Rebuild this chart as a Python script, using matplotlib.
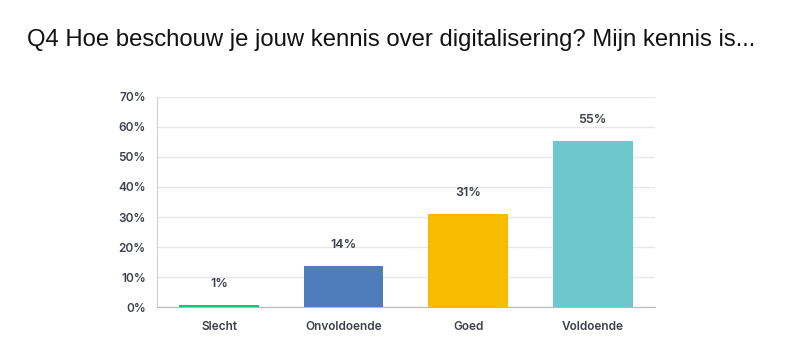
import matplotlib.pyplot as plt

categories = ['Slecht', 'Onvoldoende', 'Goed', 'Voldoende']
values = [0.007, 0.136, 0.309, 0.552]
labels = ['1%', '14%', '31%', '55%']
colors = ['#1fbf75', '#4f7cba', '#f8bd00', '#6cc8cc']
yticks = [0, 0.1, 0.2, 0.3, 0.4, 0.5, 0.6, 0.7]
ytick_labels = ['0%', '10%', '20%', '30%', '40%', '50%', '60%', '70%']

fig = plt.figure(figsize=(7.92, 3.45), dpi=100)
ax = fig.add_axes([0.198, 0.110, 0.629, 0.609])

x = range(len(categories))
ax.bar(x, values, width=0.64, color=colors, zorder=3)
for i, (v, lab) in enumerate(zip(values, labels)):
    ax.annotate(lab, (i, v), xytext=(0, 11), textcoords='offset points',
                ha='center', va='bottom', fontsize=9, fontweight='semibold',
                family='Inter', color='#3d414c')

ax.set_xlim(-0.5, 3.5)
ax.set_ylim(0, 0.7)
ax.set_yticks(yticks)
ax.set_yticklabels(ytick_labels)
ax.set_xticks(list(x))
ax.set_xticklabels(categories)
for t in ax.get_xticklabels() + ax.get_yticklabels():
    t.set_family('Inter')
    t.set_fontweight('semibold')
    t.set_fontsize(8.5)
    t.set_color('#3d414c')
ax.tick_params(length=0)
ax.tick_params(axis='y', pad=8)
ax.tick_params(axis='x', pad=10)
ax.grid(axis='y', color='#e8e8e8', linewidth=1, zorder=0)
for s in ['top', 'right']:
    ax.spines[s].set_visible(False)
ax.spines['left'].set_color('#d0d0d0')
ax.spines['bottom'].set_color('#b8b8b8')

fig.text(0.034, 0.867, 'Q4 Hoe beschouw je jouw kennis over digitalisering? Mijn kennis is...',
         fontsize=17.2, family='Liberation Sans', color='#111111', va='baseline')

fig.savefig('out.png', dpi=100)
